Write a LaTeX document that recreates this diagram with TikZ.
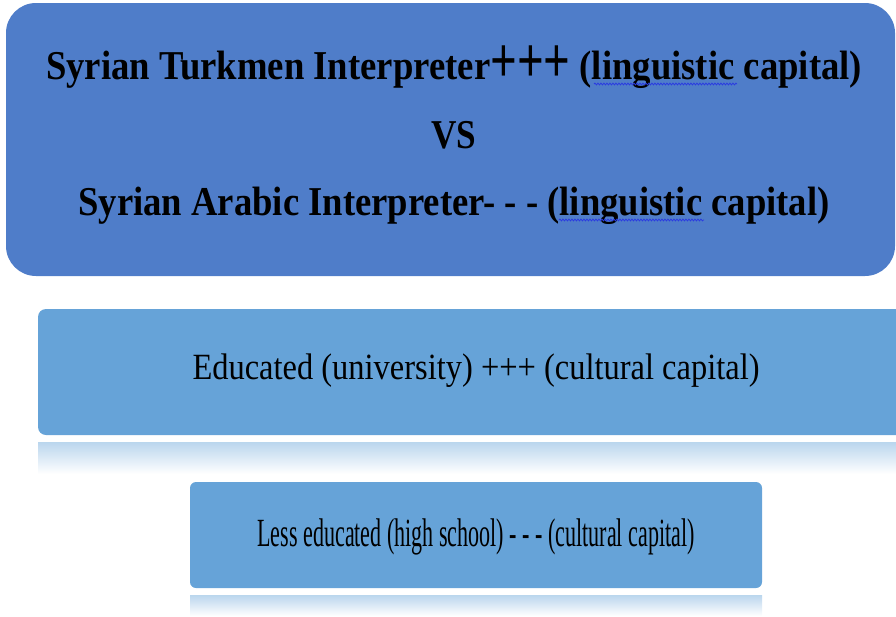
\documentclass[tikz,border=0pt]{standalone}
\usepackage{fontspec}
\setmainfont{Liberation Serif}
\usepackage{graphicx}
\usetikzlibrary{decorations.pathmorphing}
\definecolor{boxA}{HTML}{4F7DC9}
\definecolor{boxB}{HTML}{66A3D8}
\definecolor{wave}{HTML}{2B3BE0}
\newcommand{\fitw}[2]{\resizebox{#1}{\height}{#2}}
\begin{document}
\begin{tikzpicture}[x=1pt,y=-1pt,
  boxa/.style={fill=boxA,draw=none,rounded corners=30pt},
  boxb/.style={fill=boxB,draw=none,rounded corners=8pt},
  squiggle/.style={draw=wave,line width=0.8pt,decorate,decoration={snake,amplitude=0.9pt,segment length=3pt}},
  txt/.style={inner sep=0pt,text=black,anchor=base}]
\useasboundingbox (0,0) rectangle (896,616);
\begin{scope}
\clip (0,0) rectangle (896,616);
% top box
\fill[boxa] (6,3) rectangle (895,276);
\node[txt] (t1) at (454,79) {\fitw{816pt}{\fontsize{41}{45}\selectfont\bfseries Syrian Turkmen Interpreter\raisebox{-3pt}{\scalebox{1.05}[1.3]{\fontsize{50}{50}\selectfont+++}} (linguistic capital)}};
\node[txt] (t2) at (454,148) {\fitw{45pt}{\fontsize{41}{45}\selectfont\bfseries VS}};
\node[txt] (t3) at (454,215) {\fitw{751pt}{\fontsize{41}{45}\selectfont\bfseries Syrian Arabic Interpreter- - - (linguistic capital)}};
\coordinate (u1a) at (594,84); \coordinate (u1b) at (737,84);
\coordinate (u3a) at (559,220); \coordinate (u3b) at (704,220);
\draw[squiggle] (u1a) -- (u1b);
\draw[squiggle] (u3a) -- (u3b);
% second box
\shade[top color=boxB!45,bottom color=white] (38,442) rectangle (896,474);
\fill[boxb] (38,309) rectangle (920,435);
\node[txt] (e1) at (476,379) {\fitw{567pt}{\fontsize{37}{39}\selectfont Educated (university) +++ (cultural capital)}};
% third box
\shade[top color=boxB!45,bottom color=white] (190,595) rectangle (762,616);
\fill[boxb,rounded corners=6pt] (190,482) rectangle (762,588);
\node[txt] (e2) at (476,546) {\fitw{437pt}{\fontsize{40}{42}\selectfont Less educated (high school) - - - (cultural capital)}};
\end{scope}
\end{tikzpicture}
\end{document}
